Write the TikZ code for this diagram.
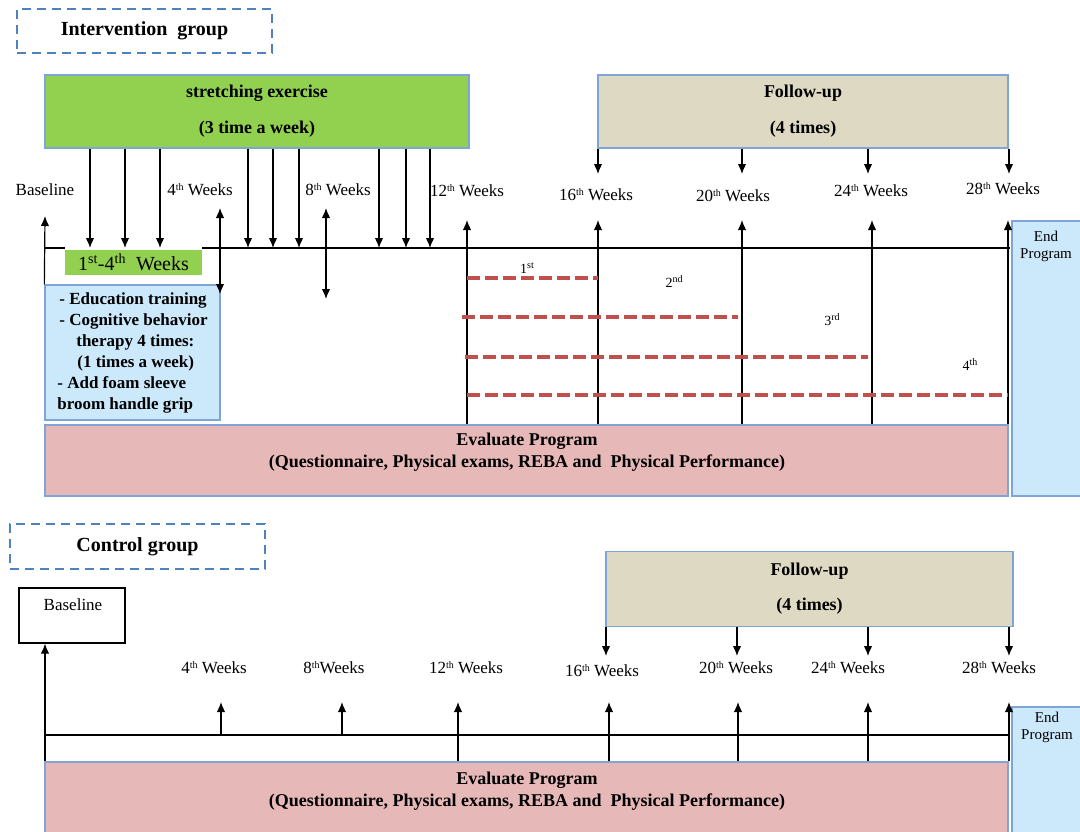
\documentclass[tikz,border=0pt]{standalone}
\usepackage{fontspec}
\setmainfont{Liberation Serif}
\usetikzlibrary{arrows.meta}

% --- colours ---
\definecolor{grpblue}{HTML}{4F81BD}
\definecolor{edgeblue}{HTML}{7FA5D6}
\definecolor{stretchgreen}{HTML}{92D050}
\definecolor{followbeige}{HTML}{DDD9C3}
\definecolor{evalpink}{HTML}{E6B8B7}
\definecolor{endblue}{HTML}{CCE8FB}
\definecolor{visitred}{HTML}{C0504D}

% --- fonts ---
\newcommand{\wkfont}{\fontsize{17}{20}\selectfont}
\newcommand{\boxfont}{\fontsize{18}{22}\selectfont\bfseries}
\newcommand{\edufont}{\fontsize{17}{21}\selectfont\bfseries}
\newcommand{\grpfont}{\fontsize{20}{24}\selectfont\bfseries}
\newcommand{\ordsup}[1]{\raisebox{5pt}{\fontsize{10}{10}\selectfont #1}}
\newcommand{\wk}[1]{#1\ordsup{th} Weeks}

\begin{document}
\begin{tikzpicture}[x=1pt, y=-1pt,
    arr/.style={-{Latex[length=10pt,width=8.5pt]}, line width=1.2pt},
    dbl/.style={{Latex[length=10pt,width=8.5pt]}-{Latex[length=10pt,width=8.5pt]}, line width=1.2pt},
    grpbox/.style={draw=grpblue, line width=2pt, dash pattern=on 9pt off 6pt, font=\grpfont, inner sep=0pt},
    fillbox/.style={draw=edgeblue, line width=1.3pt, inner sep=0pt},
    txt/.style={inner sep=0pt, align=center},
    wklabel/.style={font=\wkfont, inner sep=0pt},
    tline/.style={line width=1.3pt},
    visit/.style={visitred, line width=4pt, dash pattern=on 13pt off 5pt}]

    \useasboundingbox (0,0) rectangle (1080,831);

    % --- Intervention group ---
    \node[grpbox, minimum width=255pt, minimum height=44pt] (intv) at (144.5,31) {Intervention\ \ group};

    % --- boxes ---
    \node[fillbox, fill=stretchgreen, minimum width=424pt, minimum height=73pt, font=\boxfont, align=center] (stretch) at (257,111.5) {stretching exercise\\[14pt](3 time a week)};
    \node[fillbox, fill=followbeige, minimum width=410pt, minimum height=73pt, font=\boxfont, align=center] (follow) at (803,111.5) {Follow-up\\[14pt](4 times)};
    \node[fill=stretchgreen, minimum width=137pt, minimum height=25pt, inner sep=0pt, font=\fontsize{20}{24}\selectfont] (wkfirst) at (133.5,262.5) {1\textsuperscript{st}-4\textsuperscript{th}\ \ Weeks};
    \node[fillbox, fill=endblue, minimum width=175pt, minimum height=135pt, font=\edufont, align=left] (edu) at (132.5,352.5)
        {\hspace*{2pt}- Education training\\ \hspace*{2pt}- Cognitive behavior\\ \hspace*{19pt}therapy 4 times:\\ \hspace*{20pt}(1 times a week)\\ - Add foam sleeve\\ broom handle grip};
    \node[fillbox, fill=evalpink, minimum width=963pt, minimum height=71pt] (eval) at (526.5,460.5) {};
    \node[txt, font=\boxfont] (evaltxt) at (527,452.5) {Evaluate Program\\(Questionnaire, Physical exams, REBA and\ \ Physical Performance)};
    \node[fillbox, fill=endblue, minimum width=70pt, minimum height=275pt] (endi) at (1047,358.5) {};
    \node[txt, font=\fontsize{15}{17}\selectfont] (enditxt) at (1046,246) {End\\Program};

    % --- week labels ---
    \node[wklabel] (basei) at (45,190) {Baseline};
    \node[wklabel] (wkiv) at (200,190) {\wk{4}};
    \node[wklabel] (wkviii) at (338,190) {\wk{8}};
    \node[wklabel] (wkxii) at (467,191) {\wk{12}};
    \node[wklabel] (wkxvi) at (596,195) {\wk{16}};
    \node[wklabel] (wkxx) at (733,196) {\wk{20}};
    \node[wklabel] (wkxxiv) at (871,191) {\wk{24}};
    \node[wklabel] (wkxxviii) at (1003,189) {\wk{28}};

    % --- timeline ---
    \coordinate (tlstart) at (45,248);
    \coordinate (tlend) at (1010,248);
    \draw[tline] (tlstart) -- (wkfirst.west |- tlstart);
    \draw[tline] (wkfirst.east |- tlstart) -- (tlend);
    \draw[arr] (edu.north west) -- (45,216);

    % stretching arrows
    \foreach \x in {90,125,160,248,273,299,379,406,430}
        \draw[arr] (stretch.south -| \x,0) -- (\x,248);
    \draw[dbl] (220,208) -- (220,294);
    \draw[dbl] (326,208) -- (326,299);

    % follow-up arrows
    \foreach \x in {598,742,868,1009}
        \draw[arr] (follow.south -| \x,0) -- (\x,174);
    \foreach \x in {467,598,742,872,1008}
        \draw[arr] (eval.north -| \x,0) -- (\x,220);

    % --- follow-up visits ---
    \draw[visit] (467,278) -- (598,278);
    \draw[visit] (462,317) -- (738,317);
    \draw[visit] (465,357) -- (868,357);
    \draw[visit] (467,395) -- (1008,395);
    \node[txt, font=\fontsize{14}{14}\selectfont] (vi) at (527,268) {1\ordsup{st}};
    \node[txt, font=\fontsize{14}{14}\selectfont] (vii) at (674,282) {2\ordsup{nd}};
    \node[txt, font=\fontsize{14}{14}\selectfont] (viii) at (832,320) {3\ordsup{rd}};
    \node[txt, font=\fontsize{14}{14}\selectfont] (viv) at (970,365) {4\ordsup{th}};

    % --- Control group ---
    \node[grpbox, minimum width=255pt, minimum height=45pt] (ctrl) at (137.5,546.5) {Control group};
    \node[draw, line width=1.3pt, minimum width=106pt, minimum height=55pt, inner sep=0pt] (basec) at (72,615.5) {};
    \node[wklabel] (basectxt) at (73,605) {Baseline};
    \node[fillbox, fill=followbeige, minimum width=407pt, minimum height=75pt, font=\boxfont, align=center] (followc) at (809.5,589) {Follow-up\\[13pt](4 times)};
    \node[fillbox, fill=evalpink, minimum width=963pt, minimum height=76pt] (evalc) at (526.5,800) {};
    \node[txt, font=\boxfont] (evalctxt) at (527,791) {Evaluate Program\\(Questionnaire, Physical exams, REBA and\ \ Physical Performance)};
    \node[fillbox, fill=endblue, minimum width=70pt, minimum height=128pt] (endc) at (1047,771) {};
    \node[txt, font=\fontsize{15}{17}\selectfont] (endctxt) at (1047,727) {End\\Program};

    % week labels
    \node[wklabel] (cwkiv) at (214,668) {\wk{4}};
    \node[wklabel] (cwkviii) at (334,668) {8\ordsup{th}Weeks};
    \node[wklabel] (cwkxii) at (466,668) {\wk{12}};
    \node[wklabel] (cwkxvi) at (602,671) {\wk{16}};
    \node[wklabel] (cwkxx) at (736,668) {\wk{20}};
    \node[wklabel] (cwkxxiv) at (848,668) {\wk{24}};
    \node[wklabel] (cwkxxviii) at (999,668) {\wk{28}};

    % timeline
    \coordinate (ctlstart) at (45,735);
    \coordinate (ctlend) at (1008,735);
    \draw[tline] (ctlstart) -- (ctlend);
    \draw[arr] (evalc.north -| 45,0) -- (basec.south -| 45,0);
    \foreach \x in {221,342}
        \draw[arr] (\x,735) -- (\x,702);
    \foreach \x in {458,609,738,868,1009}
        \draw[arr] (evalc.north -| \x,0) -- (\x,702);
    \foreach \x in {606,737,868,1009}
        \draw[arr] (followc.south -| \x,0) -- (\x,656);

\end{tikzpicture}
\end{document}
